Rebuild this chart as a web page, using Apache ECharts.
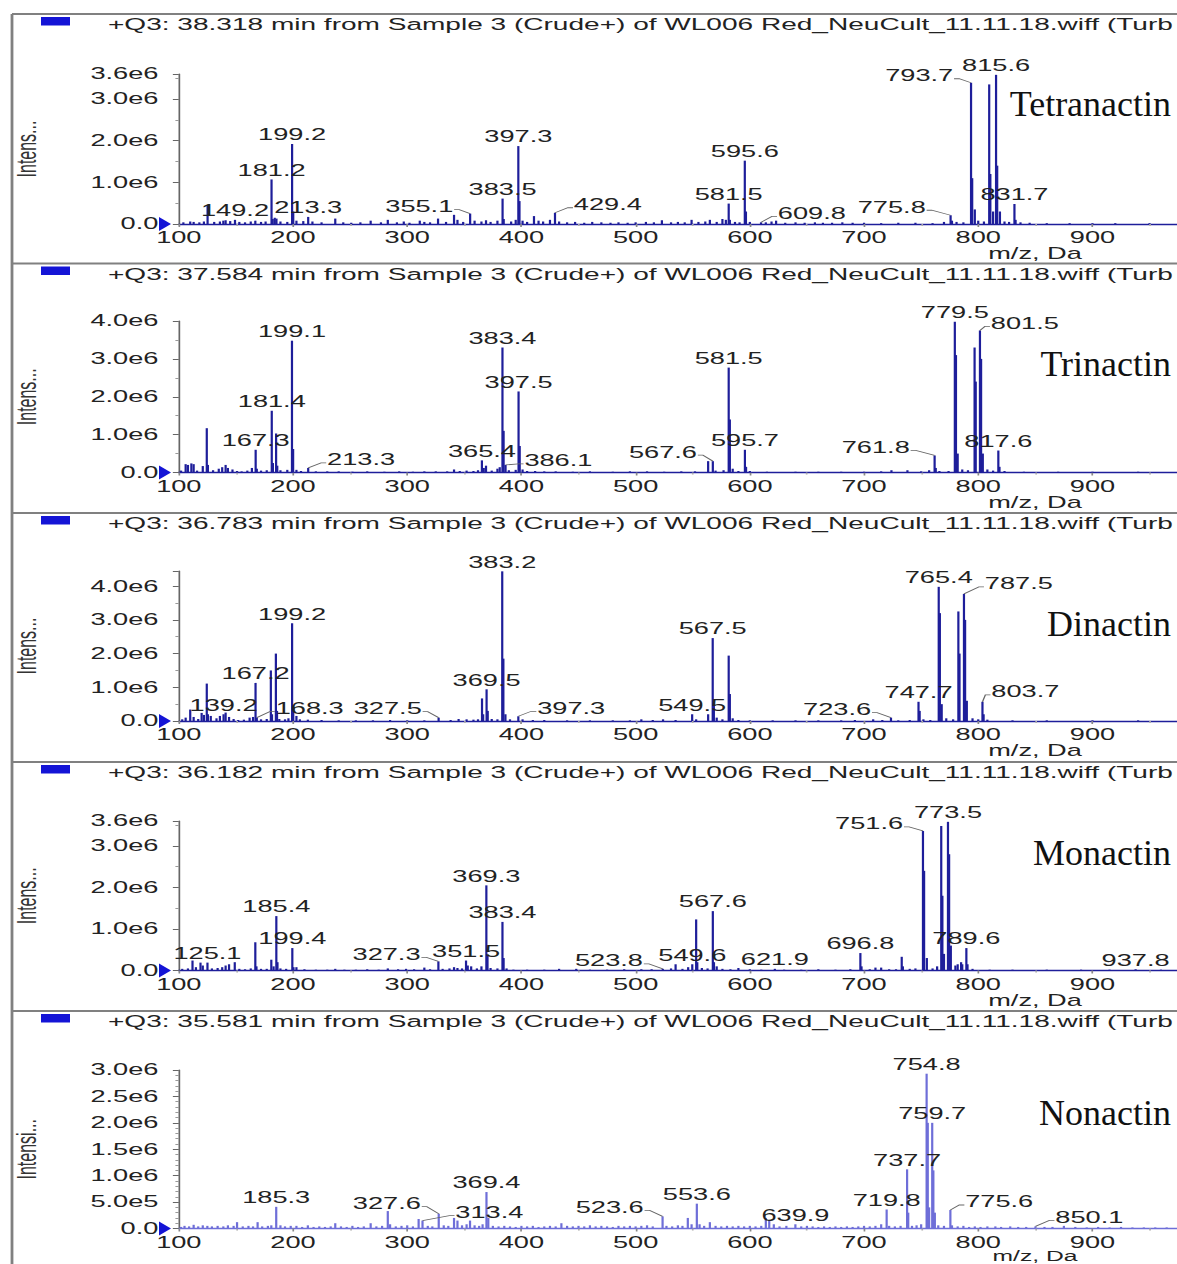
<!DOCTYPE html>
<html><head><meta charset="utf-8">
<script src="https://cdn.jsdelivr.net/npm/echarts@6.0.0/dist/echarts.min.js"></script>
<style>
html,body{margin:0;padding:0;background:#fff;overflow:hidden;width:1177px;height:1264px;}
#chart{width:693px;height:1264px;transform:scaleX(1.7);transform-origin:0 0;}
</style></head><body><div id="chart"></div>
<script>
// ---------- DATA ----------
const compounds = ['Tetranactin', 'Trinactin', 'Dinactin', 'Monactin', 'Nonactin'];
const scanTimes = ['38.318', '37.584', '36.783', '36.182', '35.581'];
const yAxisNames = ['Intens...', 'Intens...', 'Intens...', 'Intens...', 'Intensi...'];
const yMax = [3.6, 4.0, 4.45, 3.6, 3.0];          // intensity, millions of counts
const yStep = [1, 1, 1, 1, 0.5];
const xMin = 100, xMax = 975, xStep = 100;         // m/z, Da

// peaks: [m/z, intensity (1e6 counts)]
const tetranactinPeaks = [[104,0.04],[110,0.06],[113,0.05],[118,0.04],[122,0.06],[125.2,0.45],[131,0.05],[136,0.06],[139,0.08],[141,0.09],[145,0.07],[149.2,0.1],[153,0.05],[158,0.04],[163,0.06],[167,0.08],[172,0.05],[176,0.06],[181.2,1.07],[182.2,0.12],[184,0.15],[185.5,0.13],[189,0.06],[195,0.05],[199.2,1.92],[200.2,0.3],[203,0.08],[209,0.07],[213.3,0.17],[217,0.06],[225,0.04],[237,0.13],[244,0.04],[251,0.03],[259,0.04],[268,0.08],[277,0.04],[283,0.1],[291,0.04],[297,0.06],[302,0.03],[311,0.08],[315,0.05],[320,0.04],[327,0.13],[334,0.05],[341,0.22],[344,0.1],[349,0.05],[355.1,0.25],[359,0.08],[365,0.06],[369,0.09],[373,0.05],[379,0.08],[383.5,0.61],[384.5,0.12],[391,0.06],[395,0.1],[397.3,1.87],[398.3,0.55],[401,0.08],[405,0.05],[411,0.19],[415,0.08],[419,0.06],[425,0.1],[429.4,0.27],[433,0.06],[440,0.04],[447,0.05],[455,0.03],[462,0.05],[470,0.04],[478,0.03],[485,0.04],[493,0.03],[500,0.04],[509,0.05],[516,0.04],[523,0.09],[531,0.04],[537,0.05],[543,0.04],[549,0.1],[555,0.05],[561,0.06],[565,0.1],[571,0.05],[576,0.12],[579,0.1],[581.5,0.49],[582.5,0.1],[587,0.05],[591,0.04],[595.6,1.52],[596.6,0.3],[600,0.05],[609.8,0.04],[614,0.04],[619,0.06],[623,0.08],[631,0.03],[640,0.04],[648,0.03],[657,0.04],[664,0.03],[672,0.03],[681,0.04],[690,0.03],[700,0.03],[715,0.02],[730,0.03],[745,0.03],[760,0.02],[770,0.05],[775.8,0.21],[777,0.08],[781,0.05],[787,0.04],[793.7,3.39],[794.7,1.1],[797,0.35],[800,0.08],[805,0.06],[809.6,3.35],[810.6,1.2],[813,0.3],[815.6,3.58],[816.6,1.4],[819,0.3],[823,0.06],[827,0.05],[831.7,0.48],[832.7,0.1],[837,0.04],[845,0.03],[860,0.02],[880,0.02],[900,0.02],[920,0.02],[950,0.02]];
const trinactinPeaks = [[102,0.05],[106,0.22],[108,0.2],[111,0.24],[113,0.22],[116,0.05],[121,0.17],[124.5,1.17],[125.5,0.2],[130,0.06],[135,0.1],[138,0.14],[141,0.2],[143,0.12],[147,0.08],[151,0.04],[155,0.03],[160,0.05],[164,0.12],[167.3,0.6],[168.3,0.1],[172,0.05],[177,0.06],[181.4,1.63],[182.4,0.25],[185.2,1.03],[186.2,0.18],[189,0.06],[195,0.07],[199.1,3.48],[200.1,0.62],[203,0.07],[207,0.04],[213.3,0.12],[220,0.03],[230,0.03],[240,0.03],[252,0.02],[265,0.03],[280,0.02],[293,0.03],[305,0.02],[315,0.03],[325,0.03],[335,0.03],[341,0.08],[346,0.04],[352,0.05],[358,0.04],[362,0.06],[365.4,0.32],[367,0.12],[369,0.18],[374,0.05],[379,0.1],[381,0.14],[383.4,3.3],[384.4,1.1],[386.1,0.2],[389,0.06],[395,0.07],[397.5,2.14],[398.5,0.7],[401,0.08],[405,0.04],[412,0.04],[420,0.03],[430,0.03],[445,0.02],[460,0.03],[480,0.02],[495,0.03],[510,0.03],[525,0.02],[540,0.03],[552,0.03],[563.5,0.3],[567.6,0.3],[570,0.05],[577,0.06],[581.5,2.77],[582.5,1.4],[585,0.1],[590,0.04],[595.7,0.6],[596.7,0.15],[600,0.04],[615,0.02],[640,0.02],[660,0.02],[680,0.02],[700,0.02],[715,0.03],[724,0.06],[738,0.06],[750,0.03],[757,0.06],[761.8,0.45],[762.8,0.12],[766,0.04],[774,0.04],[779.5,3.98],[780.5,3.1],[782,0.5],[786,0.08],[791,0.06],[796.8,3.3],[797.8,2.4],[801.5,3.75],[802.5,3.0],[804,0.5],[808,0.08],[813,0.05],[817.6,0.58],[818.6,0.15],[823,0.04],[840,0.02],[870,0.02],[900,0.02],[940,0.02]];
const dinactinPeaks = [[103,0.05],[106,0.1],[110,0.34],[113,0.12],[117,0.06],[120,0.24],[122,0.18],[124.5,1.11],[125.5,0.2],[128,0.15],[133,0.08],[136,0.15],[139.2,0.2],[141,0.25],[144,0.12],[148,0.06],[152,0.03],[157,0.04],[162,0.1],[165,0.12],[167.2,1.13],[168.3,0.1],[172,0.05],[177,0.06],[180.6,1.5],[181.6,0.2],[185,2.0],[186,0.3],[188,0.06],[193,0.05],[196,0.08],[199.2,2.9],[200.2,0.4],[203,0.15],[206,0.05],[213,0.04],[225,0.03],[240,0.02],[255,0.02],[270,0.02],[285,0.03],[300,0.02],[315,0.02],[327.5,0.1],[338,0.03],[345,0.06],[352,0.05],[358,0.04],[362,0.05],[365.5,0.67],[366.5,0.2],[369.5,0.94],[370.5,0.3],[374,0.06],[379,0.05],[383.2,4.44],[384.2,1.85],[386,0.2],[390,0.05],[397.3,0.14],[401,0.05],[410,0.03],[420,0.03],[440,0.02],[460,0.02],[480,0.02],[495,0.02],[505,0.05],[515,0.03],[524,0.05],[535,0.03],[549.5,0.2],[553,0.05],[563.5,0.2],[567.5,2.46],[568.5,0.5],[571,0.1],[576,0.05],[581.5,1.94],[582.5,0.8],[585,0.08],[590,0.03],[600,0.02],[620,0.02],[640,0.02],[660,0.02],[680,0.02],[692,0.03],[708,0.05],[716,0.03],[723.6,0.1],[730,0.02],[740,0.03],[747.7,0.57],[748.7,0.3],[752,0.05],[758,0.03],[765.4,3.98],[766.4,3.2],[768,0.5],[772,0.08],[778,0.05],[782.6,3.25],[783.6,2.0],[787.5,3.77],[788.5,3.0],[790,0.6],[795,0.08],[800,0.05],[803.7,0.57],[804.7,0.2],[808,0.04],[830,0.02],[860,0.02],[900,0.02],[940,0.02]];
const monactinPeaks = [[103,0.04],[108,0.05],[112,0.24],[115,0.08],[119,0.19],[121,0.12],[125.1,0.19],[129,0.05],[134,0.06],[138,0.08],[141,0.12],[144,0.15],[149,0.2],[153,0.04],[158,0.03],[163,0.05],[167,0.68],[168,0.1],[172,0.04],[177,0.04],[181,0.26],[183,0.1],[185.4,1.31],[186.4,0.2],[189,0.05],[194,0.04],[199.4,0.54],[200.4,0.08],[203,0.08],[210,0.03],[220,0.02],[230,0.02],[237,0.04],[245,0.02],[255,0.02],[265,0.03],[275,0.02],[283,0.05],[292,0.03],[299,0.04],[306,0.03],[315,0.07],[320,0.03],[327.3,0.22],[331,0.04],[337,0.05],[341,0.08],[344,0.06],[348,0.05],[351.5,0.24],[353,0.12],[356,0.1],[361,0.05],[365,0.1],[369.3,2.05],[370.3,0.35],[373,0.06],[379,0.05],[383.4,1.17],[384.4,0.3],[387,0.05],[393,0.02],[405,0.02],[420,0.02],[433,0.04],[448,0.04],[460,0.02],[475,0.02],[490,0.03],[505,0.03],[514,0.03],[523.8,0.04],[531,0.05],[535,0.15],[541,0.04],[546,0.08],[549.6,0.15],[553,1.23],[554,0.2],[558,0.06],[563,0.05],[567.6,1.43],[568.6,0.2],[571,0.1],[576,0.04],[583,0.03],[590,0.06],[600,0.03],[610,0.02],[621.9,0.04],[630,0.02],[645,0.02],[660,0.03],[675,0.02],[688,0.03],[696.8,0.42],[697.8,0.1],[705,0.03],[710,0.07],[715,0.07],[722,0.03],[728,0.03],[733,0.33],[734,0.1],[740,0.04],[745,0.05],[751.6,3.36],[752.6,2.4],[755,0.3],[760,0.05],[764,0.1],[767.6,3.48],[768.6,1.8],[770,0.4],[773.5,3.58],[774.5,2.8],[776,0.6],[780,0.12],[782,0.15],[785,0.2],[786,0.15],[789.6,0.54],[790.6,0.15],[795,0.04],[810,0.02],[830,0.02],[860,0.02],[890,0.02],[915,0.02],[937.8,0.03],[960,0.02]];
const nonactinPeaks = [[102,0.03],[105,0.05],[109,0.04],[113,0.07],[117,0.04],[121,0.06],[125,0.05],[129,0.04],[134,0.05],[139,0.04],[143,0.06],[148,0.05],[151,0.12],[156,0.04],[161,0.05],[165,0.04],[169,0.12],[173,0.04],[178,0.05],[181,0.06],[185.3,0.41],[189,0.06],[193,0.04],[198,0.05],[203,0.05],[208,0.03],[213,0.06],[218,0.03],[223,0.04],[228,0.03],[233,0.04],[237,0.1],[242,0.04],[247,0.03],[252,0.05],[257,0.03],[262,0.04],[268,0.1],[273,0.04],[278,0.05],[283,0.33],[285,0.08],[290,0.04],[295,0.05],[300,0.06],[305,0.04],[310,0.18],[313.4,0.15],[318,0.05],[322,0.04],[327.6,0.28],[332,0.06],[336,0.05],[341,0.2],[344,0.15],[348,0.06],[352,0.08],[355,0.15],[359,0.06],[363,0.05],[366,0.08],[369.4,0.69],[371,0.2],[375,0.05],[380,0.04],[385,0.05],[390,0.04],[395,0.03],[400,0.05],[405,0.04],[410,0.05],[415,0.03],[420,0.04],[425,0.05],[430,0.04],[435,0.1],[440,0.05],[445,0.04],[450,0.05],[455,0.04],[460,0.06],[465,0.04],[470,0.05],[475,0.04],[480,0.03],[485,0.05],[490,0.04],[495,0.05],[500,0.04],[505,0.05],[510,0.06],[515,0.04],[523.6,0.23],[527,0.05],[532,0.04],[537,0.06],[541,0.05],[545.7,0.2],[549,0.08],[553.6,0.47],[556,0.08],[560,0.05],[565,0.12],[570,0.05],[575,0.04],[580,0.05],[585,0.04],[590,0.05],[595,0.04],[600,0.05],[605,0.04],[610,0.05],[614,0.2],[617,0.16],[621,0.08],[626,0.04],[632,0.05],[639.9,0.08],[645,0.04],[650,0.05],[655,0.04],[660,0.03],[665,0.04],[670,0.03],[675,0.04],[680,0.03],[685,0.04],[690,0.03],[695,0.04],[700,0.05],[705,0.04],[710,0.05],[715,0.08],[719.8,0.36],[722,0.05],[727,0.04],[732,0.05],[737.7,1.12],[738.7,0.3],[742,0.05],[746,0.06],[750,0.08],[754.8,2.93],[755.8,2.0],[757,0.4],[759.7,2.0],[760.7,1.1],[762,0.3],[765,0.06],[770,0.05],[775.6,0.35],[777,0.06],[782,0.04],[787,0.05],[792,0.03],[797,0.04],[802,0.03],[808,0.04],[815,0.04],[820,0.03],[828,0.04],[835,0.03],[842,0.03],[850.1,0.04],[858,0.03],[865,0.03],[875,0.05],[885,0.03],[895,0.02],[905,0.03],[915,0.02],[925,0.03],[935,0.02],[945,0.02],[955,0.02],[965,0.02]];

// peak annotations: [m/z, intensity, text]
const tetranactinLabels = [[149.2,0.1,'149.2'],[181.2,1.07,'181.2'],[199.2,1.92,'199.2'],[213.3,0.17,'213.3'],[355.1,0.25,'355.1'],[383.5,0.61,'383.5'],[397.3,1.87,'397.3'],[429.4,0.27,'429.4'],[581.5,0.49,'581.5'],[595.6,1.52,'595.6'],[609.8,0.04,'609.8'],[775.8,0.21,'775.8'],[793.7,3.39,'793.7'],[815.6,3.58,'815.6'],[831.7,0.48,'831.7']];
const trinactinLabels = [[167.3,0.6,'167.3'],[181.4,1.63,'181.4'],[199.1,3.48,'199.1'],[213.3,0.12,'213.3'],[365.4,0.32,'365.4'],[383.4,3.3,'383.4'],[386.1,0.2,'386.1'],[397.5,2.14,'397.5'],[567.6,0.3,'567.6'],[581.5,2.77,'581.5'],[595.7,0.6,'595.7'],[761.8,0.45,'761.8'],[779.5,3.98,'779.5'],[801.5,3.75,'801.5'],[817.6,0.58,'817.6']];
const dinactinLabels = [[139.2,0.2,'139.2'],[167.2,1.13,'167.2'],[168.3,0.1,'168.3'],[199.2,2.9,'199.2'],[327.5,0.1,'327.5'],[369.5,0.94,'369.5'],[383.2,4.44,'383.2'],[397.3,0.14,'397.3'],[549.5,0.2,'549.5'],[567.5,2.46,'567.5'],[723.6,0.1,'723.6'],[747.7,0.57,'747.7'],[765.4,3.98,'765.4'],[787.5,3.77,'787.5'],[803.7,0.57,'803.7']];
const monactinLabels = [[125.1,0.19,'125.1'],[185.4,1.31,'185.4'],[199.4,0.54,'199.4'],[327.3,0.22,'327.3'],[351.5,0.24,'351.5'],[369.3,2.05,'369.3'],[383.4,1.17,'383.4'],[523.8,0.04,'523.8'],[549.6,0.15,'549.6'],[567.6,1.43,'567.6'],[621.9,0.04,'621.9'],[696.8,0.42,'696.8'],[751.6,3.36,'751.6'],[773.5,3.58,'773.5'],[789.6,0.54,'789.6'],[937.8,0.03,'937.8']];
const nonactinLabels = [[185.3,0.41,'185.3'],[313.4,0.15,'313.4'],[327.6,0.28,'327.6'],[369.4,0.69,'369.4'],[523.6,0.23,'523.6'],[553.6,0.47,'553.6'],[639.9,0.08,'639.9'],[719.8,0.36,'719.8'],[737.7,1.12,'737.7'],[754.8,2.93,'754.8'],[759.7,2.0,'759.7'],[775.6,0.35,'775.6'],[850.1,0.04,'850.1']];

const PEAKS = [tetranactinPeaks, trinactinPeaks, dinactinPeaks, monactinPeaks, nonactinPeaks];
const LABELS = [tetranactinLabels, trinactinLabels, dinactinLabels, monactinLabels, nonactinLabels];

// ---------- STYLE / LAYOUT ----------
const S = 1.7;                        // horizontal stretch of the original screenshot
const W = 693;
const FONT = '"Liberation Sans", Arial, sans-serif';
const TXT = '#222';
const PANEL_TOP = [14, 263.5, 513, 762, 1011];
const GRID_TOP = [74, 321, 571, 821, 1070];
const GRID_ZERO = [224, 472.5, 721, 970.5, 1228.5];
const NAME_Y = [104, 364, 624, 853, 1113];
const UNIT_DY = [30, 30, 30, 30, 27.5];
const UNIT_FS = [16, 16, 16, 16, 14.5];
const SPEC_COLOR = ['#1e1e9a', '#1e1e9a', '#1e1e9a', '#1e1e9a', '#6e6ed8'];
const SHOW_MAX = [true, true, false, true, true];
const MINOR_SPLIT = [2, 2, 2, 2, 5];
// leader-line labels: [horizontal gap from peak to label edge (ref px), vertical offset of label centre]
const LEADER = [
  {'355.1':[-16,-7],'429.4':[18,-8],'609.8':[16,-9],'775.8':[-24,-8],'793.7':[-17,-7]},
  {'213.3':[18,-8],'386.1':[18,-4],'567.6':[-15,-9],'761.8':[-24,-8],'801.5':[10,-7]},
  {'168.3':[18,-9],'327.5':[-16,-9],'397.3':[18,-8],'723.6':[-19,-8],'787.5':[20,-10],'803.7':[8,-10]},
  {'327.3':[-17,-7],'523.8':[-19,-8],'751.6':[-19,-7]},
  {'327.6':[-17,-10],'313.4':[32,-8],'523.6':[-18,-9],'775.6':[14,-8],'850.1':[19,-9]}
];

function fmtY(v) {
  if (v === 0) return '0.0';
  if (v >= 1) return v.toFixed(1) + 'e6';
  return (v * 10).toFixed(1) + 'e5';
}

function makeLabelRenderer(pi) {
  return function (params, api) {
    const p = api.coord([api.value(0), api.value(1)]);
    const text = LABELS[pi][params.dataIndex][2];
    const spec = LEADER[pi][text];
    const font = '16px ' + FONT;
    if (!spec) {
      return {type: 'text', x: p[0], y: p[1] - 1,
        style: {text: text, font: font, fill: TXT, align: 'center', verticalAlign: 'bottom', textAlign: 'center', textVerticalAlign: 'bottom'}};
    }
    const gx = spec[0] / S, ey = p[1] + spec[1];
    const ex = p[0] + gx;
    const al = gx < 0 ? 'right' : 'left';
    return {type: 'group', children: [
      {type: 'polyline', shape: {points: [[p[0], p[1]], [ex - (gx < 0 ? -3 : 3), ey + 3], [ex, ey + 3]]},
        style: {stroke: '#666', lineWidth: 0.8, fill: null}},
      {type: 'text', x: ex + (gx < 0 ? -0.5 : 0.5), y: ey,
        style: {text: text, font: font, fill: TXT, align: al, verticalAlign: 'middle', textAlign: al, textVerticalAlign: 'middle'}}
    ]};
  };
}

const grids = [], xAxes = [], yAxes = [], series = [], graphics = [];
const gridLeft = 171 / S;
for (let i = 0; i < 5; i++) {
  grids.push({left: gridLeft, right: 0, top: GRID_TOP[i], height: GRID_ZERO[i] - GRID_TOP[i]});
  xAxes.push({type: 'value', gridIndex: i, min: xMin, max: xMax, interval: xStep,
    axisLine: {show: true, lineStyle: {color: SPEC_COLOR[i], width: 1.3}},
    axisTick: {show: true, length: 3, lineStyle: {color: '#888'}},
    minorTick: {show: true, splitNumber: 2, length: 2, lineStyle: {color: '#aaa'}},
    splitLine: {show: false},
    axisLabel: {margin: 6, fontSize: 16, color: TXT, fontFamily: FONT, showMaxLabel: false, showMinLabel: true}});
  yAxes.push({type: 'value', gridIndex: i, min: 0, max: yMax[i], interval: yStep[i],
    axisLine: {show: true, lineStyle: {color: '#666', width: 1}},
    axisTick: {show: true, length: 3.5, lineStyle: {color: '#666'}},
    minorTick: {show: true, splitNumber: MINOR_SPLIT[i], length: 2, lineStyle: {color: '#999'}},
    splitLine: {show: false},
    axisLabel: {margin: 12, fontSize: 16, color: TXT, fontFamily: FONT, formatter: fmtY, showMaxLabel: SHOW_MAX[i]},
    name: yAxisNames[i], nameLocation: 'middle', nameGap: (171 - 33) / S,
    nameTextStyle: {fontSize: 16, color: '#333', fontFamily: FONT}});
  series.push({type: 'bar', xAxisIndex: i, yAxisIndex: i, data: PEAKS[i], barWidth: 1.3,
    itemStyle: {color: SPEC_COLOR[i]}, silent: true, animation: false});
  series.push({type: 'custom', xAxisIndex: i, yAxisIndex: i, z: 5, silent: true, animation: false,
    data: LABELS[i].map(function (l) { return [l[0], l[1]]; }), renderItem: makeLabelRenderer(i)});

  const pt = PANEL_TOP[i];
  graphics.push({type: 'line', shape: {x1: 12 / S, y1: pt, x2: W, y2: pt}, style: {stroke: '#808080', lineWidth: 2}, z: 10});
  graphics.push({type: 'rect', shape: {x: 41 / S, y: pt + 3, width: 29 / S, height: 8.5}, style: {fill: '#1414d6'}});
  graphics.push({type: 'text', x: 108 / S, y: pt + 10.5,
    style: {text: '+Q3: ' + scanTimes[i] + ' min from Sample 3 (Crude+) of WL006 Red_NeuCult_11.11.18.wiff (Turb',
      font: '16.5px ' + FONT, fill: TXT, align: 'left', verticalAlign: 'middle', textAlign: 'left', textVerticalAlign: 'middle'}});
  graphics.push({type: 'text', x: 1171 / S, y: NAME_Y[i], scaleX: 1 / S,
    style: {text: compounds[i], font: '36px "Liberation Serif", "Times New Roman", serif', fill: '#111',
      align: 'right', verticalAlign: 'middle', textAlign: 'right', textVerticalAlign: 'middle'}});
  graphics.push({type: 'text', x: 1035 / S, y: GRID_ZERO[i] + UNIT_DY[i],
    style: {text: 'm/z, Da', font: UNIT_FS[i] + 'px ' + FONT, fill: TXT, align: 'center', verticalAlign: 'middle', textAlign: 'center', textVerticalAlign: 'middle'}});
  const z0 = GRID_ZERO[i];
  graphics.push({type: 'polygon', shape: {points: [[159 / S, z0 - 7], [159 / S, z0 + 7], [gridLeft, z0]]}, style: {fill: '#1414d6'}, z: 10});
}
graphics.push({type: 'line', shape: {x1: 12 / S, y1: 14, x2: 12 / S, y2: 1264}, style: {stroke: '#808080', lineWidth: 2 / S * 1.4}, z: 10});

const chart = echarts.init(document.getElementById('chart'), null, {renderer: 'svg'});
chart.setOption({
  animation: false,
  backgroundColor: '#fff',
  grid: grids, xAxis: xAxes, yAxis: yAxes, series: series, graphic: graphics
});
</script></body></html>
